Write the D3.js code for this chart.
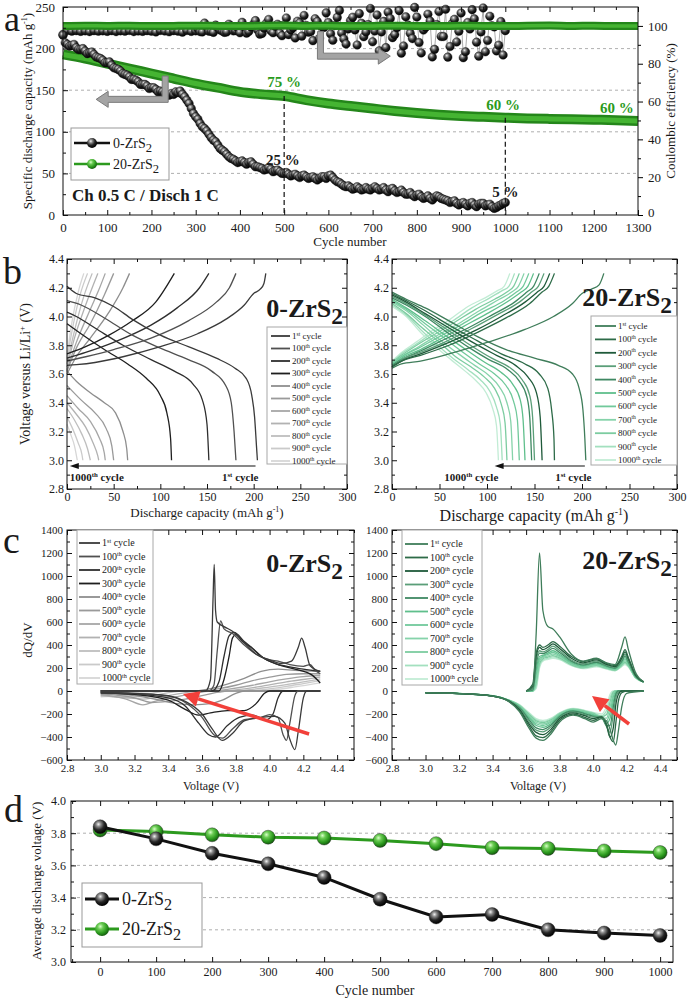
<!doctype html>
<html>
<head>
<meta charset="utf-8">
<script src="https://cdnjs.cloudflare.com/ajax/libs/d3/7.8.5/d3.min.js"></script>
<style>
  body { margin: 0; background: #fff; }
  svg text { font-family: "Liberation Serif", "Times New Roman", serif; fill: #1a1a1a; }
  .grid { stroke: #9a9a9a; stroke-dasharray: 3 3; stroke-width: 0.8; }
  .frame { fill: none; stroke: #111; stroke-width: 1; }
</style>
</head>
<body>
<svg id="fig" width="688" height="998"></svg>
<script>
// ---------------- data ----------------
// panel a : cycling, 0-ZrS2 read every 10 cycles, plus the in-between points
var cyc0 = d3.range(0, 1001, 10);
var cap0 = [216,205,204,201,199,197,195,193,189,186,
  183,180,176,173,169,166,163,160,157,155,
  153,151,149,146,144,145,147,145,138,128,
  118,110,104,97,90,84,78,73,68,65,
  64,63,63,61,58,56,55,55,53,52,
  50,49,48,47,47,46,45,44,44,46,
  47,45,40,37,34,33,32,32,31,31,
  32,32,31,30,31,29,28,27,25,24,
  24,22,21,20,21,22,19,17,16,14,
  14,13,14,12,13,14,12,10,9,12,
  15];
var cyc0b = d3.range(5, 1000, 10);
var cap0b = [207,203,205,199,200,194,196,190,188,183,
  184,177,175,170,168,163,162,157,157,152,
  153,148,148,144,146,148,149,142,134,122,
  115,106,101,93,88,80,76,70,67,63,
  65,61,64,58,57,54,57,52,54,50,
  51,47,49,45,48,44,46,42,46,44,
  48,42,39,35,35,31,34,30,33,30,
  34,30,33,28,32,27,30,25,27,22,
  25,20,23,18,23,20,18,15,17,12,
  15,11,15,10,14,11,13,8,11,14];
var ce0 = [95.5,97.6,97.2,97.5,97.1,97.4,97.0,97.5,97.2,97.4,
  97.1,97.5,97.0,97.4,97.2,97.6,97.0,97.3,97.1,97.5,
  97.2,96.8,97.6,97.3,96.9,97.5,97.2,96.7,97.6,97.1,
  97.4,97.0,101.5,97.2,96.6,99.2,97.3,96.8,99.8,97.5,
  96.4,99.5,97.0,100.8,97.8,96.0,101.5,97.4,99.9,96.2,
  100.6,95.4,99.1,102.5,94.6,100.2,97.0,103.8,93.5,99.2,
  101.8,92.4,104.5,96.3,90.4,102.8,97.9,106.5,94.3,100.7,
  91.6,105.8,96.8,88.5,103.9,95.4,108.1,89.4,100.4,93.3,
  104.7,85.7,99.3,102.6,87.6,107.6,94.4,83.5,101.2,91.5,
  106.8,86.3,98.4,103.7,84.0,109.5,92.3,100.1,86.8,102.3,
  97.5];
var cyc0c = d3.range(305, 1000, 10);
var ce0c = [98.5,96.8,99.6,97.2,100.4,97.9,96.6,100.9,97.4,99.1,
  101.9,96.2,99.4,102.8,95.6,98.8,103.4,96.4,100.9,94.8,
  104.2,97.9,93.6,101.6,105.5,96.7,92.2,102.3,99.6,106.9,
  95.8,100.3,108.2,93.1,98.4,104.6,89.9,101.4,96.8,109.2,
  97.3,86.8,102.4,107.3,93.8,99.1,85.6,104.8,96.1,109.8,
  91.2,97.8,106.2,83.6,100.7,94.4,108.8,89.1,103.5,97.2,
  83.2,101.8,108.6,91.4,96.8,86.3,105.1,99.5,89.8,84.6];
// 20-ZrS2 (cycles 0..1300 step 50)
var cyc20 = d3.range(0, 1301, 50);
var cap20 = [193,188,182,176,170,164,158,153,148,145,143,138,134,131,128,125,122.5,120.5,119,118,117,116,115.5,115,114.5,114,113];
var ce20 = [99.9,100.1,100,100.1,99.9,100,100.1,100,99.9,100.1,100.2,100,100.1,99.9,100,100.1,100,99.9,100.1,100,99.9,100.1,100.2,100,100.1,99.9,100];

// panel b/c : cycles shown
var cycleNames = ["1","100","200","300","400","500","600","700","800","900","1000"];
var cycleSup = ["st","th","th","th","th","th","th","th","th","th","th"];
var grey0 = ["#3a3a3a","#505050","#2e2e2e","#1e1e1e","#8e8e8e","#9a9a9a","#a6a6a6","#b2b2b2","#bebebe","#cacaca","#d6d6d6"];
var green20 = ["#3f7d5a","#2d6b48","#1f5a3a","#5a9e78","#3f8862","#5fbf8c","#71c99b","#86d3aa","#7ccca0","#a3e0bf","#c2ecd5"];

// panel b : [capacity, voltage]
var dis0 = [
  [[0,4.21],[10,4.16],[30,4.13],[50,4.07],[70,3.98],[100,3.87],[130,3.79],[160,3.71],[180,3.64],[192,3.57],[198,3.45],[201,3.3],[203,3.1],[204,3.0]],
  [[0,4.11],[15,4.08],[40,3.99],[70,3.87],[100,3.78],[130,3.70],[155,3.62],[170,3.52],[176,3.40],[179,3.2],[181,3.0]],
  [[0,4.03],[10,4.0],[30,3.92],[60,3.80],[90,3.70],[115,3.62],[135,3.53],[145,3.42],[150,3.25],[152,3.0]],
  [[0,3.95],[15,3.88],[40,3.77],[65,3.67],[85,3.57],[100,3.45],[107,3.33],[111,3.15],[112,3.0]],
  [[0,3.62],[10,3.55],[25,3.47],[40,3.40],[52,3.33],[60,3.2],[64,3.08],[65,3.0]],
  [[0,3.52],[15,3.42],[30,3.33],[42,3.22],[48,3.1],[50,3.0]],
  [[0,3.45],[12,3.36],[25,3.27],[35,3.15],[40,3.05],[41,3.0]],
  [[0,3.4],[10,3.32],[20,3.23],[28,3.12],[33,3.03],[34,3.0]],
  [[0,3.36],[8,3.28],[16,3.18],[22,3.08],[25,3.0]],
  [[0,3.3],[6,3.22],[12,3.12],[16,3.04],[17,3.0]],
  [[0,3.25],[4,3.18],[8,3.1],[11,3.0]]
];
var chg0 = [
  [[0,3.66],[10,3.665],[30,3.68],[60,3.72],[100,3.79],[140,3.88],[170,3.98],[190,4.08],[200,4.16],[207,4.19],[211,4.23],[213,4.3]],
  [[0,3.69],[20,3.72],[50,3.77],[90,3.85],[130,3.97],[160,4.1],[174,4.2],[181,4.3]],
  [[0,3.71],[20,3.75],[50,3.82],[90,3.94],[118,4.06],[142,4.2],[152,4.3]],
  [[0,3.74],[20,3.79],[45,3.87],[70,3.97],[95,4.1],[115,4.3]],
  [[0,3.6],[10,3.72],[25,3.85],[45,4.03],[60,4.2],[67,4.3]],
  [[0,3.62],[10,3.78],[25,3.95],[40,4.15],[50,4.3]],
  [[0,3.63],[10,3.82],[25,4.05],[35,4.2],[41,4.3]],
  [[0,3.65],[8,3.85],[20,4.08],[33,4.3]],
  [[0,3.67],[8,3.9],[18,4.14],[27,4.3]],
  [[0,3.7],[6,3.92],[14,4.15],[22,4.3]],
  [[0,3.72],[5,3.95],[12,4.17],[18,4.3]]
];
var dis20 = [
  [[0,4.17],[15,4.12],[35,4.06],[60,3.97],[90,3.86],[120,3.77],[150,3.71],[175,3.66],[190,3.6],[197,3.5],[201,3.35],[203,3.15],[204,3.0]],
  [[0,4.16],[15,4.11],[35,4.04],[60,3.94],[90,3.83],[115,3.74],[140,3.67],[155,3.6],[164,3.5],[168,3.35],[170.5,3.15],[171,3.0]],
  [[0,4.15],[15,4.10],[35,4.02],[60,3.92],[85,3.82],[110,3.73],[130,3.66],[143,3.58],[152,3.47],[156,3.3],[158,3.0]],
  [[0,4.14],[15,4.09],[35,4.01],[60,3.90],[85,3.79],[105,3.71],[125,3.64],[137,3.56],[145,3.45],[148,3.3],[150,3.0]],
  [[0,4.13],[15,4.08],[35,4.0],[60,3.88],[82,3.78],[102,3.7],[122,3.63],[134,3.55],[142,3.44],[145,3.3],[147,3.0]],
  [[0,4.12],[15,4.06],[35,3.97],[58,3.86],[80,3.76],[98,3.68],[115,3.61],[127,3.53],[135,3.42],[138,3.28],[140,3.0]],
  [[0,4.11],[15,4.05],[35,3.95],[55,3.85],[75,3.75],[92,3.67],[108,3.60],[120,3.52],[128,3.41],[132,3.28],[134,3.0]],
  [[0,4.10],[15,4.04],[33,3.94],[52,3.83],[70,3.74],[87,3.66],[102,3.59],[113,3.51],[121,3.40],[125,3.27],[127,3.0]],
  [[0,4.09],[15,4.02],[32,3.92],[50,3.82],[67,3.72],[83,3.65],[97,3.58],[108,3.5],[115,3.39],[119,3.26],[121,3.0]],
  [[0,4.08],[15,4.01],[30,3.91],[48,3.80],[64,3.71],[80,3.63],[93,3.56],[103,3.48],[110,3.37],[114,3.25],[116,3.0]],
  [[0,4.07],[15,4.0],[30,3.89],[46,3.79],[62,3.70],[77,3.62],[89,3.55],[99,3.47],[106,3.36],[110,3.24],[112,3.0]]
];
var chg20 = [
  [[0,3.64],[10,3.67],[30,3.69],[60,3.74],[100,3.82],[140,3.91],[170,4.0],[190,4.09],[200,4.16],[210,4.19],[218,4.22],[223,4.3]],
  [[0,3.65],[10,3.69],[30,3.73],[60,3.80],[90,3.89],[120,3.99],[145,4.09],[158,4.17],[165,4.21],[171,4.3]],
  [[0,3.65],[10,3.69],[30,3.74],[60,3.82],[90,3.91],[115,4.0],[140,4.1],[153,4.17],[160,4.21],[166,4.3]],
  [[0,3.65],[10,3.7],[30,3.75],[55,3.82],[85,3.92],[110,4.01],[134,4.1],[147,4.17],[154,4.21],[160,4.3]],
  [[0,3.66],[10,3.7],[30,3.76],[55,3.84],[80,3.92],[105,4.01],[129,4.1],[142,4.17],[149,4.21],[155,4.3]],
  [[0,3.66],[10,3.71],[30,3.77],[50,3.84],[75,3.93],[100,4.02],[123,4.11],[136,4.17],[143,4.21],[149,4.3]],
  [[0,3.67],[10,3.72],[28,3.78],[50,3.86],[72,3.94],[95,4.03],[118,4.11],[131,4.17],[138,4.21],[144,4.3]],
  [[0,3.67],[10,3.72],[28,3.79],[48,3.87],[70,3.95],[92,4.04],[113,4.12],[126,4.17],[133,4.21],[139,4.3]],
  [[0,3.68],[10,3.73],[26,3.8],[46,3.88],[66,3.96],[88,4.05],[108,4.12],[121,4.17],[128,4.21],[134,4.3]],
  [[0,3.68],[10,3.74],[26,3.81],[44,3.89],[64,3.97],[84,4.06],[103,4.13],[116,4.18],[123,4.21],[129,4.3]],
  [[0,3.69],[10,3.75],[25,3.82],[42,3.9],[61,3.98],[80,4.07],[98,4.13],[111,4.18],[118,4.21],[124,4.3]]
];

// panel c : dQ/dV, [voltage, value]
var dqC0 = [
  [[3.0,0],[3.62,0],[3.65,100],[3.665,800],[3.672,1100],[3.68,700],[3.69,600],[3.73,560],[3.78,520],[3.85,420],[3.92,320],[4.0,270],[4.07,240],[4.13,260],[4.17,380],[4.19,460],[4.21,380],[4.24,220],[4.3,170]],
  [[3.0,0],[3.64,0],[3.67,50],[3.69,350],[3.71,610],[3.73,540],[3.78,500],[3.85,400],[3.92,320],[4.0,270],[4.05,260],[4.12,230],[4.2,215],[4.24,230],[4.27,180],[4.3,150]],
  [[3.0,0],[3.66,0],[3.70,80],[3.73,300],[3.76,480],[3.79,510],[3.85,430],[3.9,370],[3.97,280],[4.03,240],[4.12,210],[4.2,190],[4.3,170]],
  [[3.0,0],[3.70,0],[3.73,100],[3.76,300],[3.78,460],[3.8,490],[3.84,430],[3.89,380],[3.95,300],[4.05,230],[4.15,190],[4.25,140],[4.3,70]],
  [[3.0,0],[3.55,0],[3.65,20],[3.75,60],[3.85,110],[3.95,170],[4.05,190],[4.15,180],[4.3,170]],
  [[3.0,0],[3.6,0],[3.7,20],[3.8,50],[3.9,90],[4.0,120],[4.1,145],[4.2,150],[4.3,150]],
  [[3.0,0],[3.65,0],[3.75,15],[3.9,50],[4.0,80],[4.1,105],[4.2,125],[4.3,135]],
  [[3.0,0],[3.7,0],[3.8,10],[3.95,40],[4.1,80],[4.2,100],[4.3,120]],
  [[3.0,0],[3.75,0],[3.9,15],[4.05,45],[4.2,80],[4.3,105]],
  [[3.0,0],[3.8,0],[3.95,10],[4.1,40],[4.2,65],[4.3,90]],
  [[3.0,0],[3.85,0],[4.0,8],[4.15,35],[4.3,70]]
];
var dqD0 = [
  [[3.0,-15],[3.2,-20],[3.4,-40],[3.5,-90],[3.6,-200],[3.66,-330],[3.72,-430],[3.78,-370],[3.85,-260],[3.95,-230],[4.03,-220],[4.09,-280],[4.12,-420],[4.15,-510],[4.17,-350],[4.2,-60],[4.22,0],[4.3,0]],
  [[3.0,-15],[3.2,-20],[3.4,-45],[3.5,-100],[3.6,-230],[3.67,-380],[3.72,-410],[3.78,-330],[3.85,-250],[3.95,-230],[4.0,-205],[4.05,-230],[4.08,-380],[4.10,-430],[4.12,-280],[4.15,-40],[4.17,0],[4.3,0]],
  [[3.0,-15],[3.2,-25],[3.4,-60],[3.5,-130],[3.58,-280],[3.64,-380],[3.68,-400],[3.75,-300],[3.82,-230],[3.9,-210],[3.98,-250],[4.02,-200],[4.05,-60],[4.08,0],[4.3,0]],
  [[3.0,-15],[3.2,-30],[3.4,-80],[3.5,-160],[3.58,-210],[3.65,-190],[3.75,-170],[3.85,-170],[3.92,-110],[3.97,-20],[4.0,0],[4.3,0]],
  [[3.0,-20],[3.2,-40],[3.35,-80],[3.45,-110],[3.55,-120],[3.65,-110],[3.72,-80],[3.8,-20],[3.85,0],[4.3,0]],
  [[3.0,-25],[3.2,-60],[3.3,-100],[3.4,-90],[3.5,-70],[3.6,-40],[3.7,-10],[3.75,0],[4.3,0]],
  [[3.0,-30],[3.15,-70],[3.25,-120],[3.32,-90],[3.45,-50],[3.6,-10],[3.65,0],[4.3,0]],
  [[3.0,-35],[3.15,-60],[3.25,-70],[3.4,-40],[3.55,-5],[3.6,0],[4.3,0]],
  [[3.0,-40],[3.15,-55],[3.3,-40],[3.45,-5],[3.5,0],[4.3,0]],
  [[3.0,-45],[3.15,-50],[3.3,-20],[3.4,0],[4.3,0]],
  [[3.0,-50],[3.1,-45],[3.25,-10],[3.35,0],[4.3,0]]
];
// 20-ZrS2 dQ/dV on shared voltage grids
var vChg20 = [3.6,3.64,3.66,3.68,3.7,3.73,3.76,3.8,3.87,3.94,4.02,4.08,4.13,4.17,4.19,4.21,4.25,4.3];
var qChg20 = [
  [0,30,500,1200,700,560,540,470,320,260,285,245,230,380,470,360,170,80],
  [0,60,330,400,380,400,430,390,300,255,280,240,220,300,360,290,150,80],
  [0,40,300,380,360,380,410,370,285,245,270,232,212,285,340,280,145,80],
  [0,20,260,350,340,360,390,350,270,235,260,225,205,270,320,265,140,80],
  [0,10,230,330,325,345,370,335,260,228,250,218,200,260,305,255,135,80],
  [0,5,180,300,310,330,350,320,250,220,242,212,195,250,290,245,132,80],
  [0,0,140,280,300,318,335,308,243,214,235,207,190,240,275,235,128,80],
  [0,0,100,260,290,305,320,298,236,208,228,202,186,232,262,228,125,80],
  [0,0,70,240,280,295,308,288,230,203,222,198,182,225,250,220,122,80],
  [0,0,40,220,270,285,296,280,225,198,216,194,178,218,240,214,120,80],
  [0,0,20,200,260,275,285,272,220,194,210,190,175,212,230,208,118,80]
];
var vDis20 = [3.0,3.2,3.4,3.5,3.56,3.62,3.66,3.7,3.75,3.8,3.88,3.95,4.0,4.05,4.08,4.1,4.12,4.135,4.15,4.17,4.2,4.3];
var qDis20 = [
  [-15,-22,-45,-95,-180,-330,-410,-430,-370,-270,-210,-240,-270,-240,-260,-330,-430,-470,-350,-140,-20,0],
  [-15,-22,-45,-92,-170,-310,-390,-405,-350,-255,-200,-230,-255,-230,-290,-400,-440,-280,-90,-15,0,0],
  [-15,-22,-44,-90,-160,-290,-360,-380,-330,-240,-190,-215,-240,-225,-300,-400,-320,-120,-30,0,0,0],
  [-15,-22,-44,-88,-150,-270,-340,-355,-310,-230,-182,-205,-228,-220,-310,-360,-200,-60,-10,0,0,0],
  [-15,-22,-43,-86,-145,-255,-320,-335,-295,-222,-176,-198,-220,-230,-300,-300,-140,-30,0,0,0,0],
  [-15,-22,-43,-85,-140,-240,-300,-315,-282,-215,-170,-192,-212,-235,-280,-240,-90,-15,0,0,0,0],
  [-15,-22,-42,-84,-135,-228,-285,-300,-270,-208,-166,-186,-206,-240,-260,-190,-50,-5,0,0,0,0],
  [-15,-21,-42,-83,-130,-218,-272,-287,-260,-203,-162,-181,-200,-235,-235,-140,-25,0,0,0,0,0],
  [-15,-21,-41,-82,-126,-208,-260,-275,-250,-198,-158,-176,-195,-225,-205,-100,-10,0,0,0,0,0],
  [-15,-21,-41,-81,-122,-200,-250,-265,-242,-193,-155,-172,-190,-215,-170,-60,-5,0,0,0,0,0],
  [-15,-21,-40,-80,-118,-192,-240,-255,-235,-189,-152,-168,-186,-200,-130,-30,0,0,0,0,0,0]
];

// panel d : average discharge voltage
var cycD = [0,100,200,300,400,500,600,700,800,900,1000];
var avg0 = [3.84,3.765,3.675,3.61,3.525,3.39,3.28,3.295,3.20,3.18,3.165];
var avg20 = [3.82,3.81,3.79,3.775,3.77,3.755,3.735,3.71,3.705,3.69,3.68];

// ---------------- helpers ----------------
var svg = d3.select("#fig");
var defs = svg.append("defs");
function ballGrad(id, stops) {
  var g = defs.append("radialGradient").attr("id", id)
    .attr("cx", "38%").attr("cy", "32%").attr("r", "68%");
  stops.forEach(function(s) { g.append("stop").attr("offset", s[0]).attr("stop-color", s[1]); });
}
ballGrad("ballK", [["0%","#f2f2f2"],["25%","#8a8a8a"],["60%","#262626"],["100%","#000"]]);
ballGrad("ballG", [["0%","#d8ffc8"],["30%","#6ccc55"],["70%","#2c9a1e"],["100%","#176010"]]);

function rich(t, fs, parts) {
  var shift = 0;
  parts.forEach(function(p) {
    var s = p[1] === "sup" ? -0.38 * fs : p[1] === "sub" ? 0.25 * fs : 0;
    var ts = t.append("tspan").text(p[0]).attr("dy", s - shift);
    if (p[1]) ts.attr("font-size", (p[1] === "sub" ? 0.9 : 0.62) * fs);
    shift = s;
  });
  return t;
}
function label(x, y, fs, parts, opt) {
  opt = opt || {};
  var t = svg.append("text").attr("x", x).attr("y", y).attr("font-size", fs)
    .attr("text-anchor", opt.anchor || "start");
  if (opt.bold) t.attr("font-weight", "bold");
  if (opt.fill) t.style("fill", opt.fill);
  if (opt.rot) t.attr("transform", "rotate(" + opt.rot + "," + x + "," + y + ")");
  return rich(t, fs, parts);
}

// frame with inward ticks on all four sides
function frame(x, y, o) {
  var g = svg.append("g");
  var xr = x.range(), yr = y.range();
  function ax(gen, tr, vals, size, fmt, fs) {
    var a = g.append("g").attr("transform", tr)
      .call(gen.tickValues(vals).tickSizeInner(size).tickSizeOuter(0).tickPadding(o.pad || 5).tickFormat(fmt));
    a.select(".domain").remove();
    a.attr("font-family", null).attr("font-size", fs);
    a.selectAll("line").attr("stroke", "#111");
    return a;
  }
  var none = function() { return ""; };
  ax(d3.axisBottom(x), "translate(0," + yr[0] + ")", o.xTicks, -5, o.xFmt, o.fs);
  ax(d3.axisBottom(x), "translate(0," + yr[0] + ")", o.xMinor, -3, none, o.fs);
  ax(d3.axisTop(x), "translate(0," + yr[1] + ")", o.xTicks, -5, none, o.fs);
  ax(d3.axisTop(x), "translate(0," + yr[1] + ")", o.xMinor, -3, none, o.fs);
  ax(d3.axisLeft(y), "translate(" + xr[0] + ",0)", o.yTicks, -5, o.yFmt, o.fs);
  ax(d3.axisLeft(y), "translate(" + xr[0] + ",0)", o.yMinor, -3, none, o.fs);
  if (!o.noRight) {
    ax(d3.axisRight(y), "translate(" + xr[1] + ",0)", o.yTicks, -5, none, o.fs);
    ax(d3.axisRight(y), "translate(" + xr[1] + ",0)", o.yMinor, -3, none, o.fs);
  }
  g.selectAll("text").style("fill", "#1a1a1a");
  svg.append("rect").attr("class", "frame")
    .attr("x", xr[0]).attr("y", yr[1]).attr("width", xr[1] - xr[0]).attr("height", yr[0] - yr[1]);
  return g;
}
function tenths(a, b, step) { return d3.range(Math.round(a * 100), Math.round(b * 100) + 1, Math.round(step * 100)).map(function(v) { return v / 100; }); }
var f1 = d3.format(".1f"), f0 = d3.format("d");

// ---------------- panel a ----------------
var axA = d3.scaleLinear().domain([0, 1300]).range([63, 638]);
var ayA = d3.scaleLinear().domain([0, 250]).range([215, 7]);
var ayR = d3.scaleLinear().domain([0, 110]).range([215, 7]);

[50, 100, 150, 200].forEach(function(v) {
  svg.append("line").attr("class", "grid").attr("x1", axA(0)).attr("x2", axA(1300)).attr("y1", ayA(v)).attr("y2", ayA(v));
});

var lineA = d3.line().x(function(d) { return axA(d[0]); }).y(function(d) { return ayA(d[1]); }).curve(d3.curveMonotoneX);
var lineR = d3.line().x(function(d) { return axA(d[0]); }).y(function(d) { return ayR(d[1]); }).curve(d3.curveMonotoneX);
var p20 = d3.zip(cyc20, cap20), ce20p = d3.zip(cyc20, ce20);
svg.append("path").attr("d", lineA(p20)).attr("fill", "none").attr("stroke", "#24861a").attr("stroke-width", 10);
svg.append("path").attr("d", lineA(p20)).attr("fill", "none").attr("stroke", "#45b432").attr("stroke-width", 5);

// 0-ZrS2 capacity and CE
function balls(pts, yS) {
  svg.append("g").selectAll("circle").data(pts).enter().append("circle")
    .attr("cx", function(d) { return axA(d[0]); }).attr("cy", function(d) { return yS(d[1]); })
    .attr("r", 4.3).attr("fill", "url(#ballK)").attr("stroke", "#111").attr("stroke-width", 0.4);
}
var ceAll = d3.zip(cyc0, ce0).concat(d3.zip(cyc0c, ce0c)).sort(function(a, b) { return a[0] - b[0]; });
var capAll = d3.zip(cyc0, cap0).concat(d3.zip(cyc0b, cap0b)).sort(function(a, b) { return a[0] - b[0]; });
svg.append("path").attr("d", d3.line().x(function(d) { return axA(d[0]); }).y(function(d) { return ayR(d[1]); })(ceAll))
  .attr("fill", "none").attr("stroke", "#888").attr("stroke-width", 0.7);
balls(ceAll, ayR);
balls(capAll, ayA);

// 20-ZrS2 CE band
svg.append("path").attr("d", lineR(ce20p)).attr("fill", "none").attr("stroke", "#24861a").attr("stroke-width", 8);
svg.append("path").attr("d", lineR(ce20p)).attr("fill", "none").attr("stroke", "#45b432").attr("stroke-width", 3.5);

frame(axA, ayA, { xTicks: d3.range(0, 1301, 100), xMinor: d3.range(50, 1300, 100), yTicks: d3.range(0, 251, 50), yMinor: d3.range(25, 250, 50), xFmt: f0, yFmt: f0, fs: 13, noRight: true, pad: 8 });
(function() {
  var g = svg.append("g").attr("transform", "translate(" + axA(1300) + ",0)")
    .call(d3.axisRight(ayR).tickValues(d3.range(0, 101, 20)).tickSizeInner(5).tickSizeOuter(0).tickPadding(5).tickFormat(f0));
  g.select(".domain").remove();
  g.attr("font-family", null).attr("font-size", 13);
  g.selectAll("text").filter(function(d) { return d === 0; }).attr("dy", "0.15em");
  var g2 = svg.append("g").attr("transform", "translate(" + axA(1300) + ",0)")
    .call(d3.axisRight(ayR).tickValues(d3.range(10, 110, 20)).tickSizeInner(3).tickSizeOuter(0).tickFormat(function() { return ""; }));
  g2.select(".domain").remove();
})();

// dashed markers at 500 and 1000
[[500, 143], [1000, 117]].forEach(function(d) {
  svg.append("line").attr("x1", axA(d[0])).attr("x2", axA(d[0])).attr("y1", ayA(d[1])).attr("y2", ayA(0))
    .attr("stroke", "#111").attr("stroke-width", 1.2).attr("stroke-dasharray", "5 3");
});

// grey L arrows
function lArrow(cx, cy, ty, tipx, dir) {
  var w = 3, hw = 8, hl = 12, pts;
  if (dir < 0) {
    pts = [[cx - w, ty], [cx + w, ty], [cx + w, cy + w], [tipx + hl, cy + w], [tipx + hl, cy + hw], [tipx, cy], [tipx + hl, cy - hw], [tipx + hl, cy - w], [cx - w, cy - w]];
  } else {
    pts = [[cx - w, ty], [cx + w, ty], [cx + w, cy - w], [tipx - hl, cy - w], [tipx - hl, cy - hw], [tipx, cy], [tipx - hl, cy + hw], [tipx - hl, cy + w], [cx - w, cy + w]];
  }
  svg.append("path").attr("d", "M" + pts.join("L") + "Z")
    .attr("fill", "#a4a4a4").attr("stroke", "#7a7a7a").attr("stroke-width", 1);
}
lArrow(axA(231), ayA(139), ayA(167), axA(75), -1);
lArrow(axA(582), ayR(84), ayR(97), axA(740), 1);

// annotations
label(axA(500), ayA(160) + 5, 15, [["75 %"]], { anchor: "middle", bold: true, fill: "#2b9b1c" });
label(axA(995), ayA(132) + 5, 15, [["60 %"]], { anchor: "middle", bold: true, fill: "#2b9b1c" });
label(axA(1252), ayA(129) + 5, 15, [["60 %"]], { anchor: "middle", bold: true, fill: "#2b9b1c" });
label(axA(497), ayA(66) + 5, 15, [["25 %"]], { anchor: "middle", bold: true });
label(axA(1000), ayA(28) + 5, 15, [["5 %"]], { anchor: "middle", bold: true });
label(72, 201, 17, [["Ch 0.5 C / Disch 1 C"]], { bold: true });

// legend a
svg.append("rect").attr("x", 71).attr("y", 128).attr("width", 98).attr("height", 52).attr("fill", "#fff").attr("stroke", "#999");
[["0", "#111", "ballK", 143], ["20", "#2c9a1e", "ballG", 164]].forEach(function(e) {
  svg.append("line").attr("x1", 74).attr("x2", 110).attr("y1", e[3]).attr("y2", e[3]).attr("stroke", e[1]).attr("stroke-width", 2.5);
  svg.append("circle").attr("cx", 92).attr("cy", e[3]).attr("r", 5).attr("fill", "url(#" + e[2] + ")");
  label(113, e[3] + 5, 14, [[e[0] + "-ZrS"], ["2", "sub"]]);
});

label(32, 111, 13, [["Specific discharge capacity (mAh g"], ["-1", "sup"], [")"]], { anchor: "middle", rot: -90 });
label(675, 111, 13, [["Coulombic efficiency (%)"]], { anchor: "middle", rot: -90 });
label(350, 246, 13, [["Cycle number"]], { anchor: "middle" });
label(4, 31, 36, [["a"]]);

// ---------------- panel b ----------------
function cycleLegend(x0, y0, step, lineLen, fs, colors, box) {
  svg.append("rect").attr("x", box[0]).attr("y", box[1]).attr("width", box[2]).attr("height", box[3])
    .attr("fill", "#fff").attr("stroke", "#a8a8a8").attr("stroke-width", 1);
  cycleNames.forEach(function(n, i) {
    var y = y0 + i * step;
    svg.append("line").attr("x1", x0).attr("x2", x0 + lineLen).attr("y1", y).attr("y2", y)
      .attr("stroke", colors[i]).attr("stroke-width", 1.8);
    label(x0 + lineLen + 2, y + fs * 0.33, fs, [[n], [cycleSup[i], "sup"], [" cycle"]]);
  });
}
function panelB(x0, x1, dis, chg, colors, name, o) {
  var x = d3.scaleLinear().domain([0, 300]).range([x0, x1]);
  var y = d3.scaleLinear().domain([2.8, 4.4]).range([489, 259]);
  var ln = d3.line().x(function(d) { return x(d[0]); }).y(function(d) { return y(d[1]); }).curve(d3.curveMonotoneX);
  for (var i = dis.length - 1; i >= 0; i--) {
    svg.append("path").attr("d", ln(chg[i])).attr("fill", "none").attr("stroke", colors[i]).attr("stroke-width", 1.3);
    svg.append("path").attr("d", ln(dis[i])).attr("fill", "none").attr("stroke", colors[i]).attr("stroke-width", 1.3);
  }
  frame(x, y, { xTicks: d3.range(0, 301, 50), xMinor: d3.range(25, 300, 50), yTicks: tenths(2.8, 4.4, 0.2), yMinor: tenths(2.9, 4.3, 0.2), xFmt: f0, yFmt: f1, fs: 12, pad: 3 });
  var ay = y(2.96);
  svg.append("line").attr("x1", x(o.arrow[0])).attr("x2", x(o.arrow[1]) + 6).attr("y1", ay).attr("y2", ay).attr("stroke", "#111").attr("stroke-width", 1.2);
  svg.append("path").attr("d", "M" + x(o.arrow[1]) + "," + ay + "l9,-3v6z").attr("fill", "#111");
  label(x(o.lastAt), 481, 11, [["1000"], ["th", "sup"], [" cycle"]], { bold: true });
  label(x(o.firstAt), 481, 11, [["1"], ["st", "sup"], [" cycle"]], { bold: true, anchor: "end" });
  cycleLegend(o.leg[0], o.leg[1], o.leg[2], o.leg[3], 9, colors, o.box);
  label(o.title[0], o.title[1], 26, [[name + "-ZrS"], ["2", "sub"]], { bold: true, anchor: "end" });
  return x;
}
panelB(67, 347, dis0, chg0, grey0, "0", { arrow: [202, 3], lastAt: 3, firstAt: 205, title: [343, 317], leg: [271, 336, 12.5, 19], box: [267, 327, 80, 137] });
panelB(392, 677, dis20, chg20, green20, "20", { arrow: [203, 108], lastAt: 55, firstAt: 210, title: [672, 306], leg: [595, 326, 13.4, 21], box: [591, 316, 86, 149] });

label(30, 374, 14, [["Voltage versus Li/Li"], ["+", "sup"], [" (V)"]], { anchor: "middle", rot: -90 });
label(207, 517, 13, [["Discharge capacity (mAh g"], ["-1", "sup"], [")"]], { anchor: "middle" });
label(534, 521, 16, [["Discharge capacity (mAh g"], ["-1", "sup"], [")"]], { anchor: "middle" });
label(3, 284, 38, [["b"]]);

// ---------------- panel c ----------------
function panelC(x0, x1, chg, dis, colors, name, o) {
  var x = d3.scaleLinear().domain([2.8, 4.5]).range([x0, x1]);
  var y = d3.scaleLinear().domain([-600, 1400]).range([760, 530]);
  var ln = d3.line().x(function(d) { return x(d[0]); }).y(function(d) { return y(d[1]); }).curve(d3.curveMonotoneX);
  for (var i = chg.length - 1; i >= 0; i--) {
    svg.append("path").attr("d", ln(dis[i])).attr("fill", "none").attr("stroke", colors[i]).attr("stroke-width", 1.3);
    svg.append("path").attr("d", ln(chg[i])).attr("fill", "none").attr("stroke", colors[i]).attr("stroke-width", 1.3);
  }
  frame(x, y, { xTicks: tenths(2.8, 4.4, 0.2), xMinor: tenths(2.9, 4.5, 0.2), yTicks: d3.range(-600, 1401, 200), yMinor: d3.range(-500, 1400, 200), xFmt: f1, yFmt: f0, fs: 11, pad: 4 });
  var a = o.arrow, x1p = x(a[0]), y1p = y(a[1]), x2p = x(a[2]), y2p = y(a[3]);
  var ang = Math.atan2(y2p - y1p, x2p - x1p), hl = 16, hw = 8;
  var bx = x2p - hl * Math.cos(ang), by = y2p - hl * Math.sin(ang);
  svg.append("line").attr("x1", x1p).attr("y1", y1p).attr("x2", bx).attr("y2", by).attr("stroke", "#f2403a").attr("stroke-width", 3.5);
  svg.append("path").attr("d", "M" + x2p + "," + y2p + "L" + (bx + hw * Math.sin(ang)) + "," + (by - hw * Math.cos(ang)) + "L" + (bx - hw * Math.sin(ang)) + "," + (by + hw * Math.cos(ang)) + "Z").attr("fill", "#f2403a");
  cycleLegend(o.leg[0], o.leg[1], 13.5, o.leg[2], 10, colors, o.box);
  label(o.title[0], o.title[1], 26, [[name + "-ZrS"], ["2", "sub"]], { bold: true, anchor: "end" });
}
var dqC20 = qChg20.map(function(r) { return d3.zip(vChg20, r); });
var dqD20 = qDis20.map(function(r) { return d3.zip(vDis20, r); });
panelC(67, 354, dqC0, dqD0, grey0, "0", { arrow: [4.234, -374, 3.487, -26], leg: [79, 543, 21], box: [77, 530, 76, 154], title: [343, 572] });
panelC(392, 677, dqC20, dqD20, green20, "20", { arrow: [4.214, -287, 3.993, -43], leg: [405, 544, 23], box: [402, 530, 80, 155], title: [672, 569] });

label(32, 640, 13, [["dQ/dV"]], { anchor: "middle", rot: -90 });
label(211, 790, 12, [["Voltage (V)"]], { anchor: "middle" });
label(538, 790, 12, [["Voltage (V)"]], { anchor: "middle" });
label(3, 553, 38, [["c"]]);

// ---------------- panel d ----------------
var axD = d3.scaleLinear().domain([-52, 1023]).range([71, 673]);
var ayD = d3.scaleLinear().domain([3.0, 4.0]).range([962, 801]);
[3.2, 3.4, 3.6, 3.8].forEach(function(v) {
  svg.append("line").attr("class", "grid").attr("x1", axD(-52)).attr("x2", axD(1023)).attr("y1", ayD(v)).attr("y2", ayD(v));
});
var lnD = d3.line().x(function(d) { return axD(d[0]); }).y(function(d) { return ayD(d[1]); });
[[avg20, "#2c9a1e", "ballG"], [avg0, "#111", "ballK"]].forEach(function(s) {
  var pts = d3.zip(cycD, s[0]);
  svg.append("path").attr("d", lnD(pts)).attr("fill", "none").attr("stroke", s[1]).attr("stroke-width", 3);
  svg.append("g").selectAll("circle").data(pts).enter().append("circle")
    .attr("cx", function(d) { return axD(d[0]); }).attr("cy", function(d) { return ayD(d[1]); })
    .attr("r", 7).attr("fill", "url(#" + s[2] + ")").attr("stroke", "#222").attr("stroke-width", 0.4);
});
frame(axD, ayD, { xTicks: d3.range(0, 1001, 100), xMinor: d3.range(-50, 1001, 100), yTicks: tenths(3.0, 4.0, 0.2), yMinor: tenths(3.1, 3.9, 0.2), xFmt: f0, yFmt: f1, fs: 12, pad: 5 });
svg.append("rect").attr("x", 82).attr("y", 883).attr("width", 120).attr("height", 64).attr("fill", "#fff").attr("stroke", "#999");
[["0", "#111", "ballK", 899], ["20", "#2c9a1e", "ballG", 929]].forEach(function(e) {
  svg.append("line").attr("x1", 85).attr("x2", 119).attr("y1", e[3]).attr("y2", e[3]).attr("stroke", e[1]).attr("stroke-width", 3);
  svg.append("circle").attr("cx", 102).attr("cy", e[3]).attr("r", 7).attr("fill", "url(#" + e[2] + ")");
  label(122, e[3] + 6, 18, [[e[0] + "-ZrS"], ["2", "sub"]]);
});
label(41, 881, 13, [["Average discharge voltage (V)"]], { anchor: "middle", rot: -90 });
label(375, 995, 14, [["Cycle number"]], { anchor: "middle" });
label(4, 822, 38, [["d"]]);
</script>
</body>
</html>
